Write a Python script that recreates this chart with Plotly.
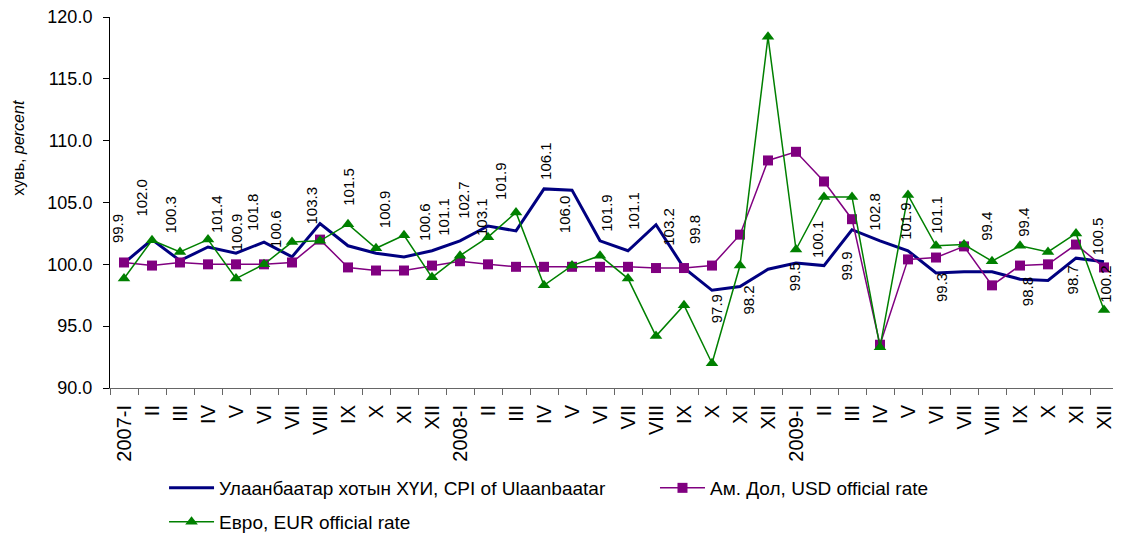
import plotly.graph_objects as go

months = ["2007-I", "II", "III", "IV", "V", "VI", "VII", "VIII", "IX", "X", "XI", "XII",
          "2008-I", "II", "III", "IV", "V", "VI", "VII", "VIII", "IX", "X", "XI", "XII",
          "2009-I", "II", "III", "IV", "V", "VI", "VII", "VIII", "IX", "X", "XI", "XII"]

cpi = [100.1, 102.0, 100.3, 101.4, 100.9, 101.8, 100.6, 103.3, 101.5, 100.9, 100.6, 101.1,
       101.9, 103.1, 102.7, 106.1, 106.0, 101.9, 101.1, 103.2, 99.7, 97.9, 98.2, 99.6,
       100.1, 99.9, 102.8, 101.9, 101.1, 99.3, 99.4, 99.4, 98.8, 98.7, 100.5, 100.2]

cpi_labels = ["99.9", "102.0", "100.3", "101.4", "100.9", "101.8", "100.6", "103.3", "101.5", "100.9", "100.6", "101.1",
              "102.7", "103.1", "101.9", "106.1", "106.0", "101.9", "101.1", "103.2", "99.8", "97.9", "98.2", "99.5",
              "100.1", "99.9", "102.8", "101.9", "101.1", "99.3", "99.4", "99.4", "98.8", "98.7", "100.5", "100.2"]

usd = [100.15, 99.9, 100.15, 100.0, 100.0, 100.0, 100.15, 102.0, 99.75, 99.5, 99.5, 99.9,
       100.25, 100.0, 99.8, 99.8, 99.8, 99.8, 99.8, 99.7, 99.7, 99.9, 102.4, 108.4,
       109.1, 106.7, 103.65, 93.5, 100.4, 100.55, 101.45, 98.3, 99.9, 100.0, 101.6, 99.75]

eur = [98.85, 101.95, 101.0, 102.0, 98.85, 100.0, 101.8, 101.9, 103.25, 101.3, 102.35, 98.95,
       100.7, 102.2, 104.2, 98.3, 99.9, 100.7, 98.85, 94.2, 96.7, 92.0, 99.9, 118.4,
       101.2, 105.45, 105.45, 93.3, 105.6, 101.5, 101.6, 100.25, 101.5, 101.0, 102.5, 96.3]

series_names = ["Улаанбаатар хотын ХҮИ, CPI of Ulaanbaatar",
                "Ам. Дол, USD official rate",
                "Евро, EUR official rate"]

# label nudges in pixels (centre of rotated label relative to its point)
label_dx = [-7, -10, -9, 8, 0, -12, -16, -8, 1, 8, 21, 12,
            4, -7, -15, 2, -8, 7, 6, 13, 10, 4, 9, 26,
            21, 23, 23, 26, 29, 6, 23, 32, 7, 24, 21, 2]
label_dy = [-34, -42, -46, -33, -21, -30, -28, -18, -59, -44, -35, -34,
            -41, -9, -50, -28, 24, -28, -40, 2, -38, 19, 14, 8,
            -24, 1, -18, -20, -36, 15, -45, -49, 13, 0, -22, 22]

FONT = "Liberation Sans, Arial, sans-serif"
x = list(range(len(months)))

fig = go.Figure()
fig.add_trace(go.Scatter(x=x, y=cpi, mode="lines", name=series_names[0], legend="legend",
                         line=dict(color="#000080", width=3)))
fig.add_trace(go.Scatter(x=x, y=usd, mode="lines+markers", name=series_names[1], legend="legend2",
                         line=dict(color="#800080", width=1.5),
                         marker=dict(symbol="square", size=10, color="#800080")))
fig.add_trace(go.Scatter(x=x, y=eur, mode="lines+markers", name=series_names[2], legend="legend3",
                         line=dict(color="#008000", width=1.5),
                         marker=dict(symbol="triangle-up", size=11, color="#008000")))

for i, (v, t) in enumerate(zip(cpi, cpi_labels)):
    fig.add_annotation(x=i, y=v, text=t, textangle=-90, showarrow=False,
                       xanchor="center", yanchor="middle",
                       xshift=label_dx[i], yshift=-label_dy[i],
                       font=dict(family=FONT, size=15, color="black"))

fig.add_annotation(xref="paper", yref="paper", x=-0.0905, y=0.647,
                   text="хувь, <i>percent</i>", textangle=-90, showarrow=False,
                   xanchor="center", yanchor="middle",
                   font=dict(family=FONT, size=16, color="black"))

legend_common = dict(orientation="h", xanchor="left", yanchor="middle", itemwidth=45,
                     xref="container", yref="container",
                     font=dict(size=19, family=FONT, color="black"),
                     bgcolor="rgba(0,0,0,0)")

fig.update_layout(
    template="none",
    width=1113, height=527,
    margin=dict(l=102, r=3, t=9, b=147),
    paper_bgcolor="white", plot_bgcolor="white",
    font=dict(family=FONT, size=16, color="black"),
    showlegend=True,
    legend=dict(x=0.1402, y=0.0892, **legend_common),
    legend2=dict(x=0.5813, y=0.0892, **legend_common),
    legend3=dict(x=0.1402, y=0.0247, **legend_common),
    xaxis=dict(range=[-0.5, len(months) - 0.5], tickmode="array", tickvals=x, ticktext=months,
               tickangle=-90, ticks="", showgrid=False, zeroline=False, automargin=False,
               ticklabelstandoff=8,
               showline=True, linecolor="#666666", linewidth=1,
               tickfont=dict(family=FONT, size=20, color="black"),
               minor=dict(tickmode="array", tickvals=[i - 0.5 for i in range(len(months) + 1)],
                          ticks="outside", ticklen=6, tickcolor="#666666", showgrid=False)),
    yaxis=dict(range=[90, 120], dtick=5, tick0=90, tickformat=".1f", automargin=False,
               ticks="outside", ticklen=6, tickcolor="black", ticklabelstandoff=7,
               ticklabeloverflow="allow",
               showgrid=False, zeroline=False, showline=True, linecolor="black", linewidth=1,
               tickfont=dict(family=FONT, size=18, color="black")),
)

fig.write_html("out.html")
